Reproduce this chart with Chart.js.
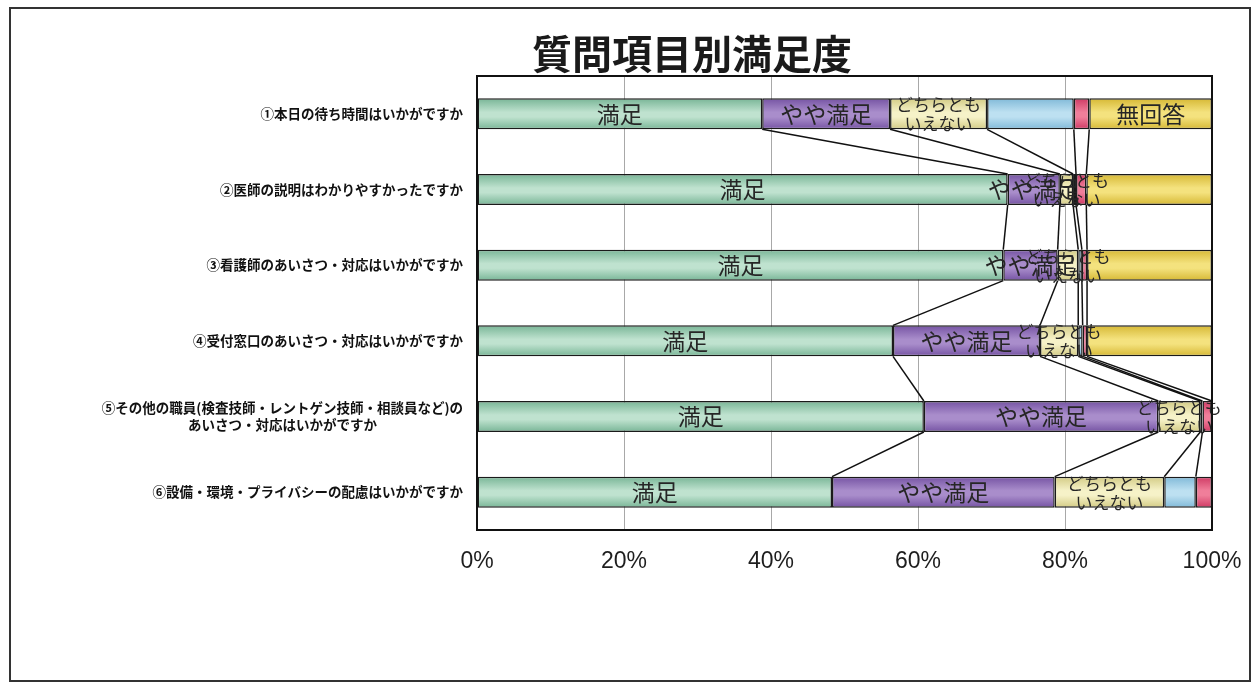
<!DOCTYPE html>
<html>
<head>
<meta charset="utf-8">
<script src="https://cdn.jsdelivr.net/npm/chart.js@4"></script>
<style>
  html, body { margin: 0; padding: 0; background: #fff; }
  canvas { display: block; }
</style>
</head>
<body>
<canvas id="chart" width="1252" height="686"></canvas>
<script>
// satisfaction by question, 100% stacked horizontal bars
var questions = [
  ['①本日の待ち時間はいかがですか'],
  ['②医師の説明はわかりやすかったですか'],
  ['③看護師のあいさつ・対応はいかがですか'],
  ['④受付窓口のあいさつ・対応はいかがですか'],
  ['⑤その他の職員(検査技師・レントゲン技師・相談員など)の', 'あいさつ・対応はいかがですか'],
  ['⑥設備・環境・プライバシーの配慮はいかがですか']
];

var seriesNames = ['満足', 'やや満足', 'どちらともいえない', 'やや不満', '不満', '無回答'];

var manzoku      = [38.8, 72.2, 71.6, 56.6, 60.8, 48.3];
var yayaManzoku  = [17.4,  7.1,  7.4, 20.0, 31.9, 30.3];
var dochiramo    = [13.2,  1.8,  2.8,  5.2,  5.7, 14.9];
var yayaFuman    = [11.8,  0.4,  0.5,  0.6,  0.3,  4.3];
var fuman        = [ 2.1,  1.4,  0.7,  0.6,  1.3,  2.2];
var mukaitou     = [16.7, 17.1, 17.0, 17.0,  0.0,  0.0];

var seriesValues = [manzoku, yayaManzoku, dochiramo, yayaFuman, fuman, mukaitou];
var xTicks = [0, 20, 40, 60, 80, 100];

// text written inside the segments, and which bars get it
var segmentText = ['満足', 'やや満足', ['どちらとも', 'いえない'], null, null, '無回答'];
var segmentTextBars = [[0,1,2,3,4,5], [0,1,2,3,4,5], [0,1,2,3,4,5], [], [], [0]];

// edge / middle colours for the shaded bars
var shades = [
  ['#78b596', '#bfe2cf'],
  ['#7553a3', '#a98dcb'],
  ['#d3cb85', '#f6f2c8'],
  ['#80b9d8', '#bde0f1'],
  ['#cf3a64', '#f07e9a'],
  ['#d6b834', '#f4e27e']
];

var BAR_PCT = 0.41;

function shaded(i) {
  return function(ctx) {
    var c = shades[i];
    if (ctx.type !== 'data') return c[1];
    var chart = ctx.chart;
    var ys = chart.scales.y;
    if (!ys || !chart.chartArea) return c[1];
    var cy = ys.getPixelForValue(ctx.dataIndex);
    var half = chart.chartArea.height / questions.length * BAR_PCT / 2;
    var g = chart.ctx.createLinearGradient(0, cy - half, 0, cy + half);
    g.addColorStop(0, c[0]);
    g.addColorStop(0.45, c[1]);
    g.addColorStop(0.6, c[1]);
    g.addColorStop(1, c[0]);
    return g;
  };
}

var datasets = seriesValues.map(function(vals, i) {
  return {
    label: seriesNames[i],
    data: vals,
    backgroundColor: shaded(i),
    borderColor: '#1a1a1a',
    borderWidth: 1.5,
    borderSkipped: false,
    barPercentage: BAR_PCT,
    categoryPercentage: 1
  };
});

// frame, title, plot border, series lines, segment text, category labels
var decorations = {
  id: 'decorations',
  beforeDraw: function(chart) {
    var ctx = chart.ctx;
    ctx.save();
    ctx.fillStyle = '#fff';
    ctx.fillRect(0, 0, chart.width, chart.height);
    ctx.strokeStyle = '#333';
    ctx.lineWidth = 2;
    ctx.strokeRect(10, 8, chart.width - 12, chart.height - 13);
    ctx.restore();
  },
  afterDatasetsDraw: function(chart) {
    var ctx = chart.ctx;
    var a = chart.chartArea;
    ctx.save();

    // series lines between neighbouring bars
    ctx.strokeStyle = '#111';
    ctx.lineWidth = 1.5;
    for (var d = 0; d < seriesValues.length; d++) {
      var bars = chart.getDatasetMeta(d).data;
      for (var i = 0; i < bars.length - 1; i++) {
        var p = bars[i], q = bars[i + 1];
        ctx.beginPath();
        ctx.moveTo(p.x, p.y + p.height / 2);
        ctx.lineTo(q.x, q.y - q.height / 2);
        ctx.stroke();
      }
    }

    // segment text
    ctx.fillStyle = '#262626';
    ctx.textAlign = 'center';
    ctx.textBaseline = 'middle';
    for (var s = 0; s < segmentText.length; s++) {
      var txt = segmentText[s];
      if (!txt) continue;
      var meta = chart.getDatasetMeta(s).data;
      segmentTextBars[s].forEach(function(idx) {
        var el = meta[idx];
        var cx = (el.x + el.base) / 2;
        if (Array.isArray(txt)) {
          ctx.font = '17px "Noto Sans CJK JP"';
          ctx.fillText(txt[0], cx, el.y - 9);
          ctx.fillText(txt[1], cx, el.y + 10);
        } else {
          ctx.font = '23px "Noto Sans CJK JP"';
          ctx.fillText(txt, cx, el.y);
        }
      });
    }

    // plot border
    ctx.strokeStyle = '#111';
    ctx.lineWidth = 2;
    ctx.strokeRect(a.left, a.top, a.right - a.left, a.bottom - a.top);

    // title
    ctx.font = 'bold 40px "Noto Sans CJK JP"';
    ctx.fillStyle = '#1a1a1a';
    ctx.fillText('質問項目別満足度', 692, 54);

    // category labels, block right-aligned, lines centred within the block
    ctx.font = 'bold 13.5px "Noto Sans CJK JP"';
    ctx.fillStyle = '#111';
    var ys = chart.scales.y;
    var right = a.left - 14;
    questions.forEach(function(lines, i) {
      var cy = ys.getPixelForValue(i);
      var w = 0;
      lines.forEach(function(l) { w = Math.max(w, ctx.measureText(l).width); });
      var lh = 17;
      var y0 = cy - (lines.length - 1) * lh / 2;
      lines.forEach(function(l, k) {
        ctx.fillText(l, right - w / 2, y0 + k * lh);
      });
    });
    ctx.restore();
  }
};

new Chart(document.getElementById('chart'), {
  type: 'bar',
  data: {
    labels: questions.map(function(q) { return q.join(''); }),
    datasets: datasets
  },
  options: {
    indexAxis: 'y',
    responsive: false,
    animation: false,
    devicePixelRatio: 1,
    layout: { padding: { left: 0, right: 40, top: 76, bottom: 114 } },
    plugins: {
      legend: { display: false },
      title: { display: false },
      tooltip: { enabled: false }
    },
    scales: {
      x: {
        stacked: true,
        min: 0,
        max: 100,
        afterBuildTicks: function(scale) {
          scale.ticks = xTicks.map(function(v) { return { value: v }; });
        },
        afterFit: function(scale) {
          // keep the plot edges fixed; the end labels may overhang
          scale.height = 42;
          scale.paddingLeft = 0;
          scale.paddingRight = 0;
        },
        grid: { color: '#a8a8a8', lineWidth: 1, drawTicks: false },
        border: { display: false },
        ticks: {
          padding: 18,
          color: '#1e1e1e',
          font: { family: '"Liberation Sans", Arial', size: 23 },
          maxRotation: 0,
          callback: function(v) { return v + '%'; }
        }
      },
      y: {
        stacked: true,
        afterFit: function(scale) { scale.width = 477; },
        grid: { display: false },
        border: { display: false },
        ticks: { display: false }
      }
    }
  },
  plugins: [decorations]
});
</script>
</body>
</html>
